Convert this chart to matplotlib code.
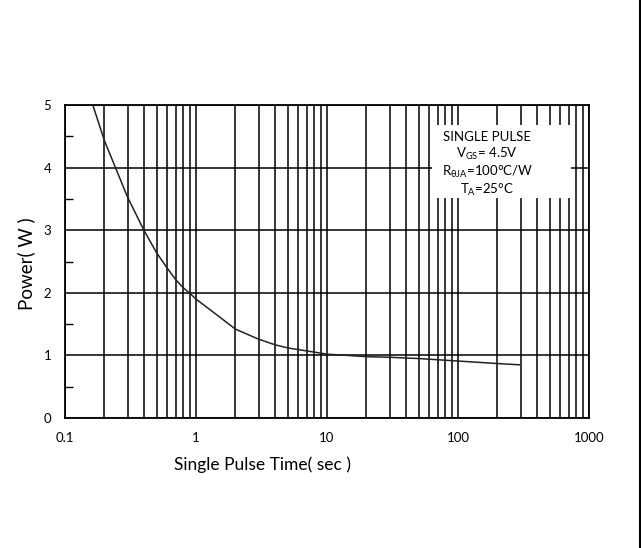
import matplotlib
matplotlib.use("Agg")
import matplotlib.pyplot as plt
from matplotlib.ticker import FixedLocator, NullFormatter
from matplotlib.patches import Rectangle
from matplotlib.lines import Line2D

plt.rcParams['font.family'] = ['Lato', 'DejaVu Sans']
plt.rcParams['mathtext.fontset'] = 'custom'
plt.rcParams['mathtext.rm'] = 'Lato'
plt.rcParams['mathtext.it'] = 'Lato:italic'

# data
pulse_time = [0.163, 0.2, 0.3, 0.4, 0.5, 0.6, 0.7, 0.8, 0.9, 1.0, 1.5, 2.0, 3.0, 4.0,
              5.0, 10.0, 20.0, 30.0, 50.0, 100.0, 200.0, 294.0]
power = [5.0, 4.43, 3.53, 3.0, 2.64, 2.40, 2.21, 2.08, 1.99, 1.90, 1.62, 1.42, 1.26, 1.17,
         1.12, 1.02, 0.98, 0.97, 0.95, 0.91, 0.87, 0.85]

x_ticks = [0.1, 1, 10, 100, 1000]
x_tick_labels = ["0.1", "1", "10", "100", "1000"]
y_ticks = [0, 1, 2, 3, 4, 5]
legend_lines = ["SINGLE PULSE", r"$\mathregular{V_{GS}}$= 4.5V",
                r"$\mathregular{R_{\theta JA}}$=100°C/W", r"$\mathregular{T_{A}}$=25°C"]

fig = plt.figure(figsize=(6.41, 5.48), dpi=100)
ax = fig.add_axes([65/641, 1-418/548, 524/641, 313/548])

ax.set_xscale('log')
ax.set_xlim(0.1, 1000)
ax.set_ylim(0, 5)

ax.plot(pulse_time, power, color='#222222', lw=1.1, zorder=3)

ax.set_xticks(x_ticks)
ax.set_xticklabels(x_tick_labels)
minor_x = [m * d for d in [0.1, 1, 10, 100] for m in range(2, 10)]
ax.xaxis.set_minor_locator(FixedLocator(minor_x))
ax.xaxis.set_minor_formatter(NullFormatter())
ax.set_yticks(y_ticks)
ax.yaxis.set_minor_locator(FixedLocator([0.5, 1.5, 2.5, 3.5, 4.5]))

ax.set_axisbelow(True)
ax.grid(True, which='major', axis='both', color='black', lw=1.1)
ax.grid(True, which='minor', axis='x', color='black', lw=1.1)

ax.tick_params(axis='x', which='both', length=0, pad=10, labelsize=9.5, colors='black')
ax.tick_params(axis='y', which='major', length=0, pad=10, labelsize=9.5)
ax.tick_params(axis='y', which='minor', direction='in', length=6, width=1.0, left=True, right=False)
for sp in ax.spines.values():
    sp.set_linewidth(1.3)
    sp.set_color('black')

ax.set_xlabel("Single Pulse Time( sec )", fontsize=12.5)
ax.xaxis.set_label_coords(0.377, -0.122)
ax.set_ylabel("Power( W )", fontsize=13.5)
ax.yaxis.set_label_coords(-0.057, 0.492)

ax.add_patch(Rectangle((0.700, 0.703), 0.266, 0.233, transform=ax.transAxes,
                       facecolor='white', edgecolor='none', zorder=1.5))
ys = [0.898, 0.843, 0.786, 0.728]
for txt, yy in zip(legend_lines, ys):
    ax.text(0.806, yy, txt, transform=ax.transAxes, ha='center', va='center',
            fontsize=9.5, zorder=4)

fig.add_artist(Line2D([639.5/641, 639.5/641], [0, 1], transform=fig.transFigure,
                      color='black', lw=1.5))

fig.savefig("out.png", dpi=100)
